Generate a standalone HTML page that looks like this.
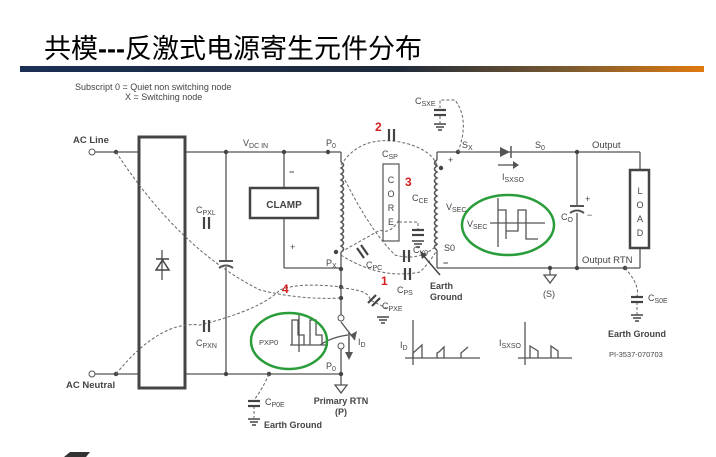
<!DOCTYPE html>
<html><head><meta charset="utf-8"><style>
html,body{margin:0;padding:0;background:#fff;}
svg{display:block;}
text{font-family:"Liberation Sans",Arial,sans-serif;fill:#444;}
</style></head><body>
<svg width="716" height="457" viewBox="0 0 716 457" xmlns="http://www.w3.org/2000/svg">
<defs>
<linearGradient id="bar" x1="0" x2="1">
<stop offset="0" stop-color="#1b2f55"/><stop offset="0.55" stop-color="#1e2a3a"/><stop offset="0.8" stop-color="#7a5a30"/><stop offset="1" stop-color="#e07a10"/>
</linearGradient>
</defs>
<text x="44" y="58" font-size="27" style="font-family:'Liberation Sans','Noto Sans CJK SC',sans-serif;fill:#000">共模<tspan font-weight="bold">---</tspan>反激式电源寄生元件分布</text>
<rect x="20" y="66" width="684" height="6" fill="url(#bar)"/>
<text x="75" y="90" font-size="9" fill="#555">Subscript   0 = Quiet non switching node</text>
<text x="125" y="100" font-size="9" fill="#555">X = Switching node</text>

<g stroke="#555" stroke-width="1.3" fill="none">
<line x1="95" y1="152" x2="341" y2="152"/>
<line x1="95" y1="374" x2="341" y2="374"/>
<line x1="341" y1="152" x2="341" y2="162"/>
<path d="M341 162 q5 3 0 6 q5 3 0 6 q5 3 0 6 q5 3 0 6 q5 3 0 6 q5 3 0 6 q5 3 0 6 q5 3 0 6 q5 3 0 6 q5 3 0 6 q5 3 0 6 q5 3 0 6 q5 3 0 6 q5 3 0 6 q5 3 0 6" stroke-width="1.6"/>
<line x1="341" y1="252" x2="341" y2="315"/>
<line x1="341" y1="349" x2="341" y2="385"/>
<line x1="284" y1="152" x2="284" y2="188"/>
<line x1="284" y1="218" x2="284" y2="268"/>
<line x1="284" y1="268" x2="341" y2="268"/>
<line x1="226" y1="152" x2="226" y2="261"/>
<line x1="226" y1="267" x2="226" y2="374"/>
<line x1="219" y1="261" x2="233" y2="261" stroke-width="2"/>
<path d="M219 268 q7 -5 14 0" stroke-width="2"/>
<line x1="341" y1="322" x2="355" y2="340"/>
<path d="M320 345 q12 -8 28 -10"/>
<path d="M335 385 h12 l-6 8 z"/>
<line x1="437" y1="152" x2="640" y2="152"/>
<line x1="437" y1="268" x2="640" y2="268"/>
<line x1="437" y1="152" x2="437" y2="160"/>
<path d="M437 160 q-5 3 0 6 q-5 3 0 6 q-5 3 0 6 q-5 3 0 6 q-5 3 0 6 q-5 3 0 6 q-5 3 0 6 q-5 3 0 6 q-5 3 0 6 q-5 3 0 6 q-5 3 0 6 q-5 3 0 6 q-5 3 0 6 q-5 3 0 6 q-5 3 0 6" stroke-width="1.6"/>
<line x1="437" y1="250" x2="437" y2="268"/>
<line x1="577" y1="152" x2="577" y2="206"/>
<line x1="577" y1="213" x2="577" y2="268"/>
<line x1="570" y1="206" x2="584" y2="206" stroke-width="2"/>
<path d="M570 213 q7 -5 14 0" stroke-width="2"/>
<line x1="640" y1="152" x2="640" y2="169"/>
<line x1="640" y1="248" x2="640" y2="268"/>
<line x1="550" y1="268" x2="550" y2="275"/>
<path d="M544 275 h12 l-6 8 z"/>
<line x1="498" y1="165" x2="513" y2="165"/>
<line x1="413" y1="320" x2="413" y2="365"/><line x1="405" y1="358" x2="480" y2="358"/>
<path d="M413 358 v-5 l9 -8 v13 M437 358 v-5 l2 -1 l5 -5 v11 M461 358 v-5 l7 -6"/>
<line x1="525" y1="322" x2="525" y2="365"/><line x1="518" y1="358" x2="572" y2="358"/>
<path d="M530 358 v-12 l8 5 v7 M551 358 v-12 l7 5 v7"/>
<line x1="498" y1="198" x2="498" y2="247"/><line x1="490" y1="223" x2="545" y2="223"/>
<path d="M498 210 h8 v29 M506 231 h12 v-21 h8 v29 h12"/>
<line x1="299" y1="315" x2="299" y2="352"/><line x1="290" y1="345" x2="328" y2="345"/>
<path d="M292 345 v-25 h6 v15 h6 v10 M310 345 v-25 h6 v15 h6 v10"/>
</g>
<path d="M500 147 v10 l10 -5 z" fill="#555"/><line x1="511" y1="146" x2="511" y2="158" stroke="#555" stroke-width="1.5"/>
<path d="M513 161 l6 4 l-6 4 z" fill="#555"/>
<path d="M355 340 l2 -9 l-7 4 z" fill="#555"/>
<line x1="349" y1="332" x2="349" y2="355" stroke="#555" stroke-width="1.5"/>
<path d="M345 352 l4 8 l4 -8 z" fill="#555"/>
<circle cx="341" cy="318" r="3" fill="#fff" stroke="#555"/>
<circle cx="341" cy="346" r="3" fill="#fff" stroke="#555"/>
<rect x="139" y="137" width="46" height="251" fill="#fff" stroke="#444" stroke-width="3"/>
<path d="M156 270 h13 l-6.5 -10 z" fill="none" stroke="#444" stroke-width="1.5"/>
<line x1="156" y1="259" x2="169" y2="259" stroke="#444" stroke-width="1.5"/>
<line x1="162" y1="250" x2="162" y2="280" stroke="#444" stroke-width="1.2"/>
<rect x="250" y="188" width="68" height="30" fill="#fff" stroke="#444" stroke-width="2.5"/>
<text x="284" y="208" font-size="10" font-weight="bold" text-anchor="middle">CLAMP</text>
<rect x="383" y="164" width="16" height="77" fill="#fff" stroke="#555" stroke-width="1.2"/>
<text x="391" y="183" font-size="9" text-anchor="middle">C</text><text x="391" y="197" font-size="9" text-anchor="middle">O</text><text x="391" y="211" font-size="9" text-anchor="middle">R</text><text x="391" y="225" font-size="9" text-anchor="middle">E</text>
<rect x="630" y="170" width="19" height="78" fill="#fff" stroke="#444" stroke-width="2.5"/>
<text x="640" y="194" font-size="9" text-anchor="middle">L</text><text x="640" y="208" font-size="9" text-anchor="middle">O</text><text x="640" y="222" font-size="9" text-anchor="middle">A</text><text x="640" y="236" font-size="9" text-anchor="middle">D</text>
<circle cx="92" cy="152" r="3" fill="#fff" stroke="#555"/>
<circle cx="92" cy="374" r="3" fill="#fff" stroke="#555"/>
<g fill="#444">
<circle cx="116" cy="152" r="2.2"/><circle cx="226" cy="152" r="2.2"/><circle cx="284" cy="152" r="2.2"/><circle cx="328" cy="152" r="2.2"/>
<circle cx="116" cy="374" r="2.2"/><circle cx="226" cy="374" r="2.2"/><circle cx="269" cy="374" r="2.2"/><circle cx="341" cy="374" r="2.2"/>
<circle cx="341" cy="269" r="2.2"/><circle cx="341" cy="287" r="2.2"/><circle cx="341" cy="298" r="2.2"/><circle cx="336" cy="252" r="2.2"/>
<circle cx="458" cy="152" r="2.2"/><circle cx="577" cy="152" r="2.2"/><circle cx="577" cy="268" r="2.2"/><circle cx="550" cy="268" r="2.2"/><circle cx="625" cy="268" r="2.2"/><circle cx="441" cy="168" r="2.2"/>
</g>
<g stroke="#666" stroke-width="1" fill="none" stroke-dasharray="3,2">
<path d="M116 152 Q180 250 260 290 Q300 300 341 298"/>
<path d="M116 374 Q160 320 200 325 Q260 310 280 290 Q300 282 341 287"/>
<path d="M341 165 Q360 135 400 142 Q430 148 437 165"/>
<path d="M345 180 Q370 230 395 255 Q420 262 437 245"/>
<path d="M341 255 Q380 280 420 272 Q430 262 437 250"/>
<path d="M341 252 L380 230 Q390 235 399 220"/>
<path d="M341 288 Q370 290 370 300 L390 310"/>
<path d="M399 222 H418 V230"/>
<path d="M458 152 Q470 120 455 100 H440 V108"/>
<path d="M625 268 Q640 285 637 296"/>
<path d="M637 302 V315"/>
<path d="M269 374 Q262 390 254 400"/>
<path d="M254 406 V418"/>
<path d="M440 116 V124"/>
</g>
<g stroke="#444" stroke-width="2.2">
<line x1="204" y1="217" x2="204" y2="229"/><line x1="209" y1="217" x2="209" y2="229"/>
<line x1="204" y1="320" x2="204" y2="332"/><line x1="209" y1="320" x2="209" y2="332"/>
<line x1="389" y1="129" x2="389" y2="141"/><line x1="394" y1="129" x2="394" y2="141"/>
<line x1="404" y1="250" x2="404" y2="262"/><line x1="409" y1="250" x2="409" y2="262"/>
<line x1="405" y1="268" x2="405" y2="280"/><line x1="410" y1="268" x2="410" y2="280"/>
<line x1="357" y1="248" x2="364" y2="258"/><line x1="361" y1="245" x2="368" y2="255"/>
<line x1="368" y1="303" x2="376" y2="295"/><line x1="372" y1="306" x2="380" y2="298"/>
<line x1="412" y1="230" x2="424" y2="230"/><line x1="412" y1="235" x2="424" y2="235"/>
<line x1="434" y1="110" x2="446" y2="110"/><line x1="434" y1="115" x2="446" y2="115"/>
<line x1="631" y1="297" x2="643" y2="297"/><line x1="631" y1="302" x2="643" y2="302"/>
<line x1="248" y1="401" x2="260" y2="401"/><line x1="248" y1="406" x2="260" y2="406"/>
</g>
<g stroke="#444" stroke-width="1.5">
<line x1="412" y1="241" x2="424" y2="241"/><line x1="414" y1="244" x2="422" y2="244"/><line x1="416" y1="247" x2="420" y2="247"/>
<line x1="434" y1="124" x2="446" y2="124"/><line x1="436" y1="127" x2="444" y2="127"/><line x1="438" y1="130" x2="442" y2="130"/>
<line x1="631" y1="315" x2="643" y2="315"/><line x1="633" y1="318" x2="641" y2="318"/><line x1="635" y1="321" x2="639" y2="321"/>
<line x1="248" y1="419" x2="260" y2="419"/><line x1="250" y1="422" x2="258" y2="422"/><line x1="252" y1="425" x2="256" y2="425"/>
<line x1="377" y1="317" x2="389" y2="317"/><line x1="379" y1="320" x2="387" y2="320"/><line x1="381" y1="323" x2="385" y2="323"/>
<line x1="422" y1="254" x2="440" y2="275"/>
</g>
<path d="M420 251 l2 8 l5 -4 z" fill="#444"/>
<ellipse cx="289" cy="341" rx="38" ry="28" fill="none" stroke="#2a9d3a" stroke-width="2.5"/>
<ellipse cx="508" cy="225" rx="46" ry="30" fill="none" stroke="#2a9d3a" stroke-width="2.5"/>
<g font-size="9">
<text x="73" y="143" font-weight="bold" font-size="9.5">AC Line</text>
<text x="66" y="388" font-weight="bold" font-size="9.5">AC Neutral</text>
<text x="243" y="146">V<tspan font-size="7" dy="2">DC IN</tspan></text>
<text x="326" y="146">P<tspan font-size="7" dy="2">0</tspan></text>
<text x="326" y="266">P<tspan font-size="7" dy="2">X</tspan></text>
<text x="326" y="369">P<tspan font-size="7" dy="2">0</tspan></text>
<text x="196" y="213">C<tspan font-size="7" dy="2">PXL</tspan></text>
<text x="196" y="346">C<tspan font-size="7" dy="2">PXN</tspan></text>
<text x="382" y="157">C<tspan font-size="7" dy="2">SP</tspan></text>
<text x="366" y="268">C<tspan font-size="7" dy="2">PC</tspan></text>
<text x="413" y="253">C<tspan font-size="7" dy="2">Y0</tspan></text>
<text x="397" y="293">C<tspan font-size="7" dy="2">PS</tspan></text>
<text x="382" y="309">C<tspan font-size="7" dy="2">PXE</tspan></text>
<text x="412" y="201">C<tspan font-size="7" dy="2">CE</tspan></text>
<text x="415" y="104">C<tspan font-size="7" dy="2">SXE</tspan></text>
<text x="462" y="148">S<tspan font-size="7" dy="2">X</tspan></text>
<text x="535" y="148">S<tspan font-size="7" dy="2">0</tspan></text>
<text x="592" y="148" font-size="9.5">Output</text>
<text x="582" y="263" font-size="9.5">Output RTN</text>
<text x="502" y="180">I<tspan font-size="7" dy="2">SXSO</tspan></text>
<text x="446" y="210">V<tspan font-size="7" dy="2">SEC</tspan></text>
<text x="467" y="227">V<tspan font-size="7" dy="2">SEC</tspan></text>
<text x="444" y="251">S0</text>
<text x="561" y="220">C<tspan font-size="7" dy="2">O</tspan></text>
<text x="448" y="163">+</text>
<text x="585" y="202">+</text>
<text x="587" y="218">−</text>
<text x="290" y="250">+</text>
<text x="289" y="175" font-weight="bold">−</text>
<text x="443" y="266" font-weight="bold">−</text>
<text x="430" y="289" font-weight="bold">Earth</text>
<text x="430" y="300" font-weight="bold">Ground</text>
<text x="543" y="297">(S)</text>
<text x="648" y="301">C<tspan font-size="7" dy="2">S0E</tspan></text>
<text x="608" y="337" font-weight="bold">Earth Ground</text>
<text x="609" y="357" font-size="7.5">PI-3537-070703</text>
<text x="265" y="405">C<tspan font-size="7" dy="2">P0E</tspan></text>
<text x="264" y="428" font-weight="bold">Earth Ground</text>
<text x="341" y="404" font-weight="bold" text-anchor="middle">Primary RTN</text>
<text x="341" y="415" font-weight="bold" text-anchor="middle">(P)</text>
<text x="358" y="345">I<tspan font-size="7" dy="2">D</tspan></text>
<text x="400" y="348">I<tspan font-size="7" dy="2">D</tspan></text>
<text x="499" y="346">I<tspan font-size="7" dy="2">SXSO</tspan></text>
<text x="259" y="345" font-size="7.5">PXP0</text>
</g>
<g font-size="12" font-weight="bold">
<text x="375" y="131" style="fill:#d42020">2</text>
<text x="405" y="186" style="fill:#d42020">3</text>
<text x="381" y="285" style="fill:#d42020">1</text>
<text x="282" y="293" style="fill:#d42020">4</text>
</g>
<path d="M64 457 l6 -5 h20 l-4 5 z" fill="#333"/>
</svg>
</body></html>
